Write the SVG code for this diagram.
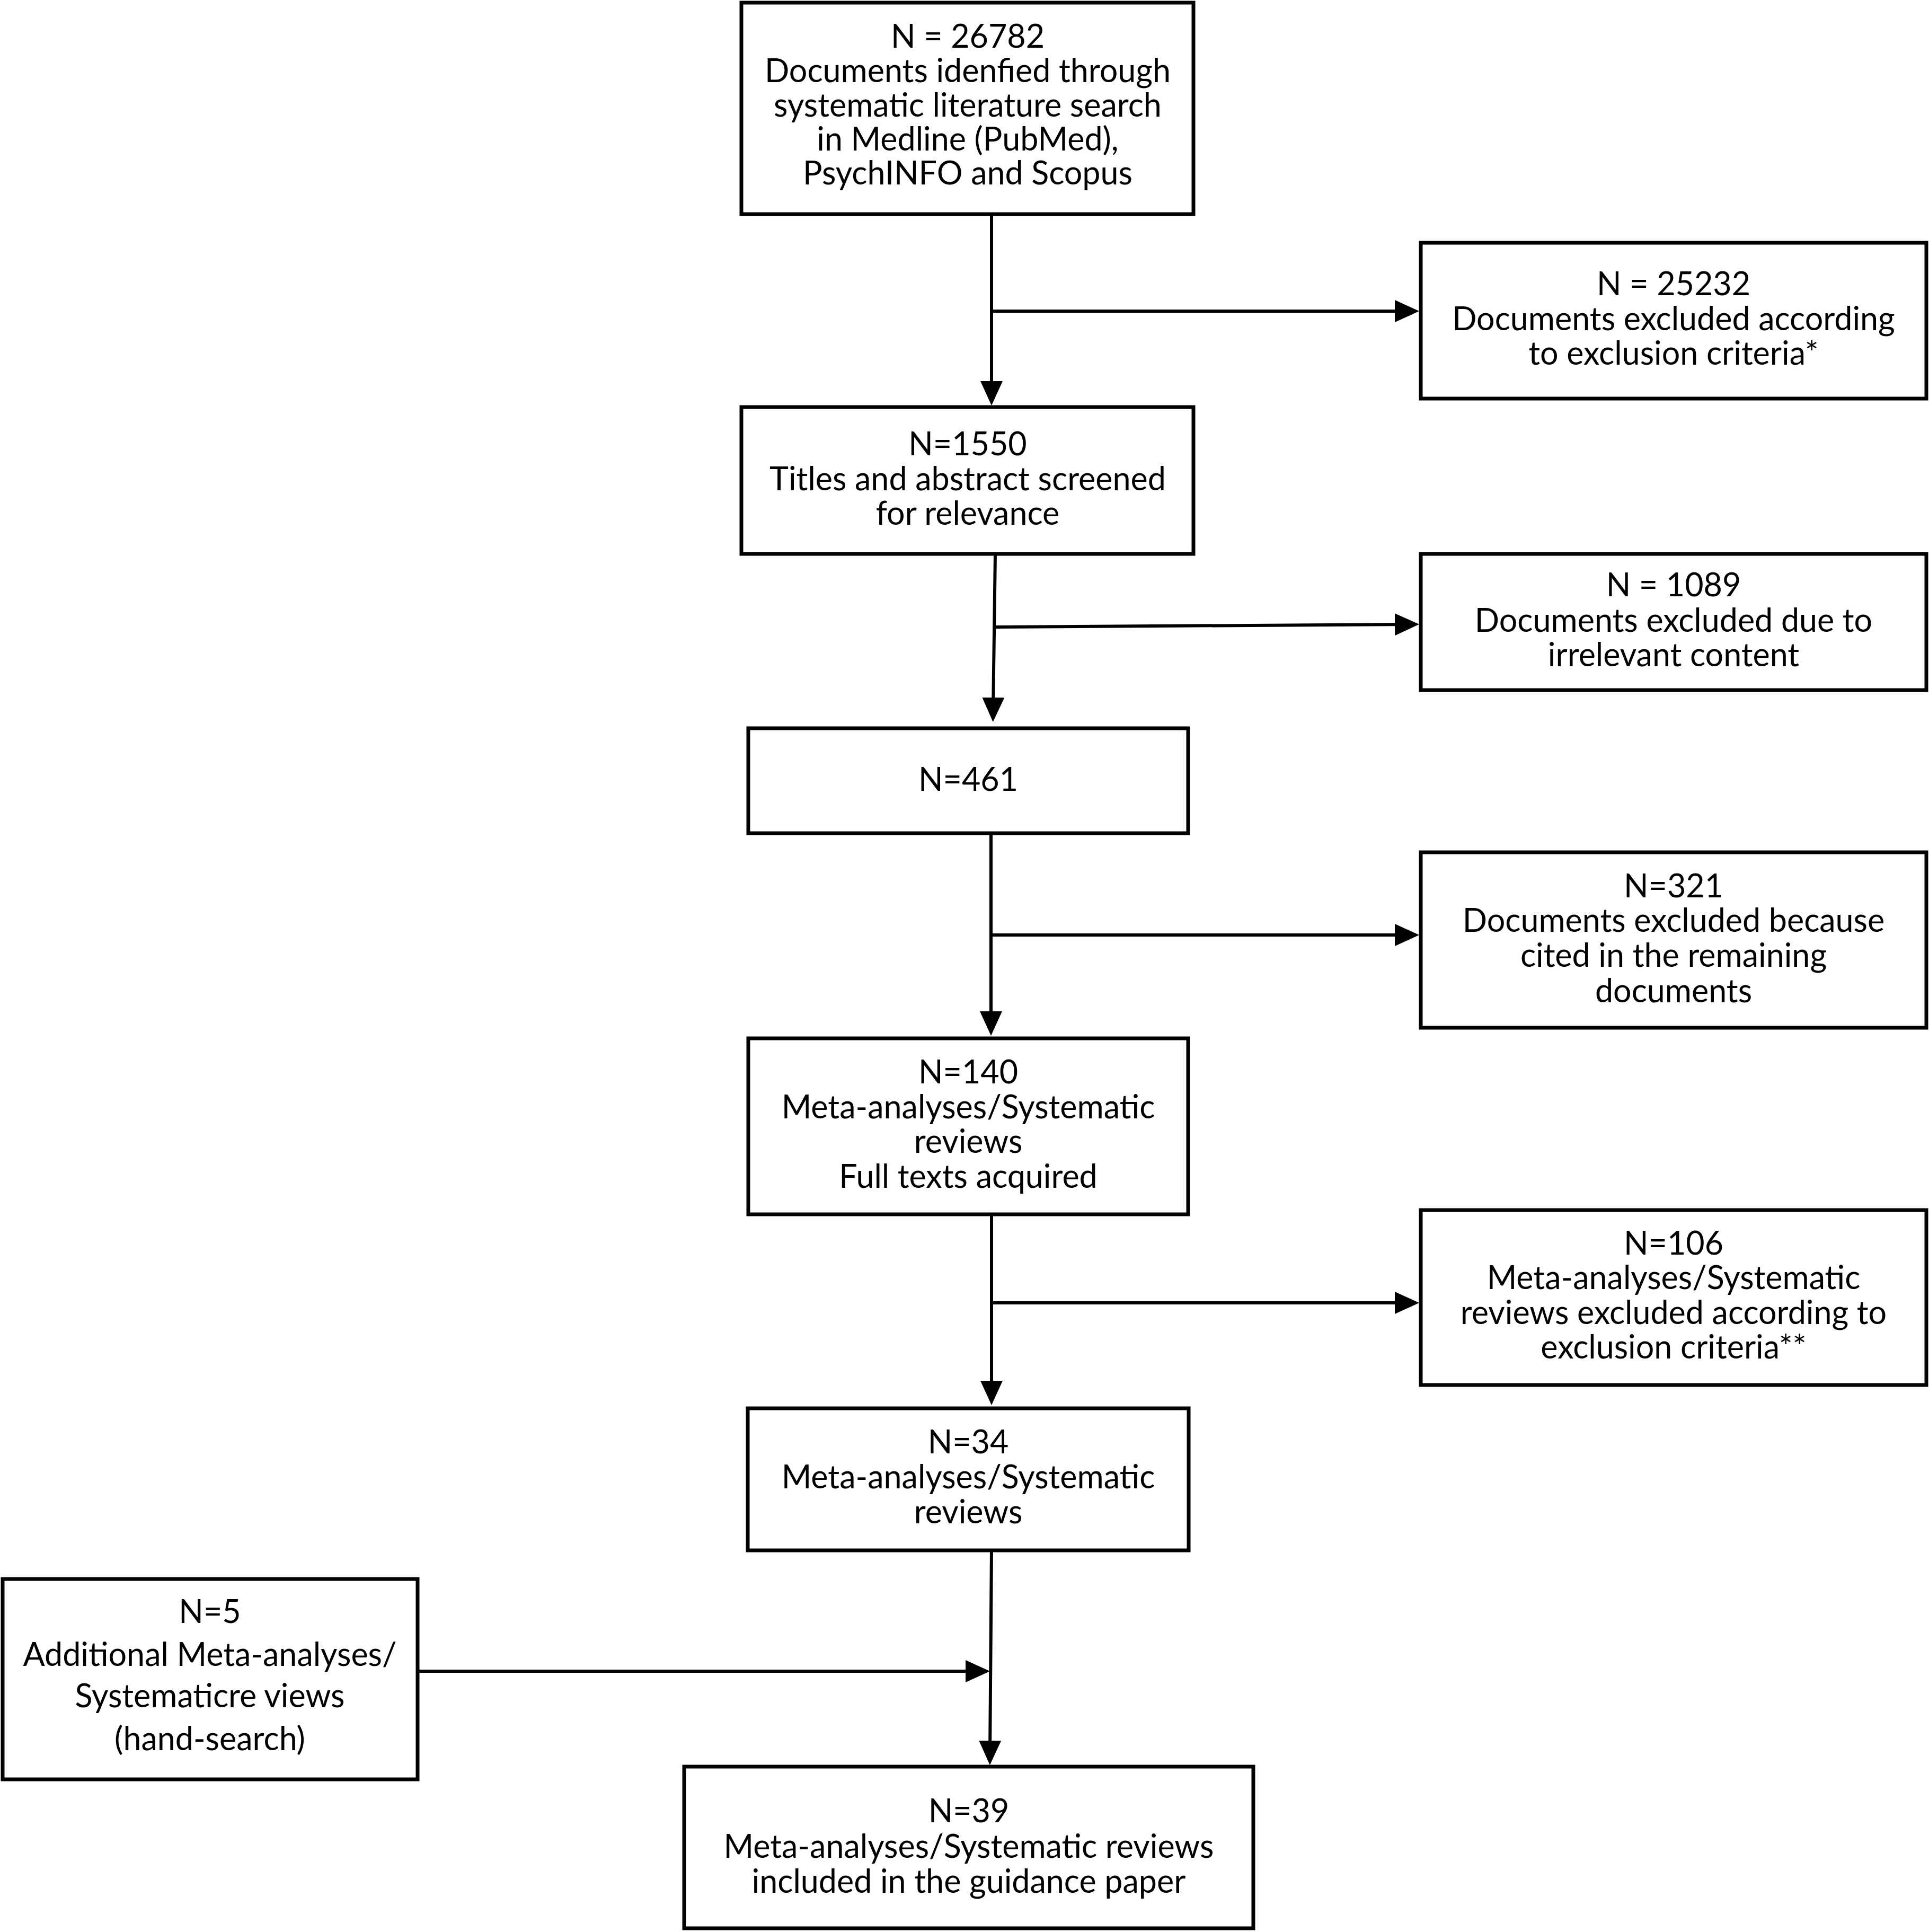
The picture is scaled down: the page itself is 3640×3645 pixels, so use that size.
<svg xmlns="http://www.w3.org/2000/svg" width="3640" height="3645" viewBox="0 0 3640 3645">
<style>
.box{fill:#fff;stroke:#000;stroke-width:7}
.t{font-family:Lato,"Open Sans","Liberation Sans",sans-serif;font-size:61px;text-anchor:middle;fill:#000}
.c{stroke:#000;stroke-width:6;fill:none}
</style>
<defs>
<marker id="ah" markerUnits="userSpaceOnUse" markerWidth="46" markerHeight="42" refX="26" refY="21" orient="auto">
<path d="M0,0 L46,21 L0,42 z" fill="#000"/>
</marker>
</defs>
<rect width="3640" height="3645" fill="#fff"/>
<g id="connectors">
<line class="c" x1="1871" y1="404" x2="1871" y2="745" marker-end="url(#ah)"/>
<line class="c" x1="1871" y1="587" x2="2658" y2="587" marker-end="url(#ah)"/>
<line class="c" x1="1878" y1="1045" x2="1874" y2="1342" marker-end="url(#ah)"/>
<line class="c" x1="1878" y1="1183" x2="2658" y2="1178" marker-end="url(#ah)"/>
<line class="c" x1="1870" y1="1572" x2="1870" y2="1934" marker-end="url(#ah)"/>
<line class="c" x1="1870" y1="1764" x2="2658" y2="1764" marker-end="url(#ah)"/>
<line class="c" x1="1871" y1="2291" x2="1871" y2="2631" marker-end="url(#ah)"/>
<line class="c" x1="1871" y1="2458" x2="2658" y2="2458" marker-end="url(#ah)"/>
<line class="c" x1="1871" y1="2925" x2="1868" y2="3310" marker-end="url(#ah)"/>
<line class="c" x1="788" y1="3153" x2="1848" y2="3153" marker-end="url(#ah)"/>
</g>
<g id="n1">
<rect class="box" x="1399" y="5" width="853" height="399"/>
<text class="t" x="1826" y="90">N = 26782</text>
<text class="t" x="1826" y="155">Documents idenfied through</text>
<text class="t" x="1826" y="220">systematic literature search</text>
<text class="t" x="1826" y="284">in Medline (PubMed),</text>
<text class="t" x="1826" y="348">PsychINFO and Scopus</text>
</g>
<g id="n2">
<rect class="box" x="2681" y="458" width="954" height="294"/>
<text class="t" x="3158" y="557">N = 25232</text>
<text class="t" x="3158" y="623">Documents excluded according</text>
<text class="t" x="3158" y="688">to exclusion criteria*</text>
</g>
<g id="n3">
<rect class="box" x="1399" y="768" width="853" height="277"/>
<text class="t" x="1826" y="859">N=1550</text>
<text class="t" x="1826" y="925">Titles and abstract screened</text>
<text class="t" x="1826" y="990">for relevance</text>
</g>
<g id="n4">
<rect class="box" x="2681" y="1045" width="954" height="257"/>
<text class="t" x="3158" y="1125">N = 1089</text>
<text class="t" x="3158" y="1192">Documents excluded due to</text>
<text class="t" x="3158" y="1257">irrelevant content</text>
</g>
<g id="n5">
<rect class="box" x="1412" y="1374" width="830" height="198"/>
<text class="t" x="1827" y="1492">N=461</text>
</g>
<g id="n6">
<rect class="box" x="2681" y="1608" width="954" height="331"/>
<text class="t" x="3158" y="1693">N=321</text>
<text class="t" x="3158" y="1758">Documents excluded because</text>
<text class="t" x="3158" y="1824">cited in the remaining</text>
<text class="t" x="3158" y="1891">documents</text>
</g>
<g id="n7">
<rect class="box" x="1412" y="1959" width="830" height="332"/>
<text class="t" x="1827" y="2044">N=140</text>
<text class="t" x="1827" y="2110">Meta-analyses/Systematic</text>
<text class="t" x="1827" y="2175">reviews</text>
<text class="t" x="1827" y="2241">Full texts acquired</text>
</g>
<g id="n8">
<rect class="box" x="2681" y="2283" width="954" height="330"/>
<text class="t" x="3158" y="2367">N=106</text>
<text class="t" x="3158" y="2432">Meta-analyses/Systematic</text>
<text class="t" x="3158" y="2498">reviews excluded according to</text>
<text class="t" x="3158" y="2563">exclusion criteria**</text>
</g>
<g id="n9">
<rect class="box" x="1411" y="2657" width="832" height="268"/>
<text class="t" x="1827" y="2742">N=34</text>
<text class="t" x="1827" y="2808">Meta-analyses/Systematic</text>
<text class="t" x="1827" y="2874">reviews</text>
</g>
<g id="n10">
<rect class="box" x="5" y="2979" width="783" height="378"/>
<text class="t" x="396" y="3062">N=5</text>
<text class="t" x="396" y="3143">Additional Meta-analyses/</text>
<text class="t" x="396" y="3221">Systematicre views</text>
<text class="t" x="396" y="3302">(hand-search)</text>
</g>
<g id="n11">
<rect class="box" x="1291" y="3333" width="1074" height="305"/>
<text class="t" x="1828" y="3438">N=39</text>
<text class="t" x="1828" y="3505">Meta-analyses/Systematic reviews</text>
<text class="t" x="1828" y="3571">included in the guidance paper</text>
</g>
</svg>
